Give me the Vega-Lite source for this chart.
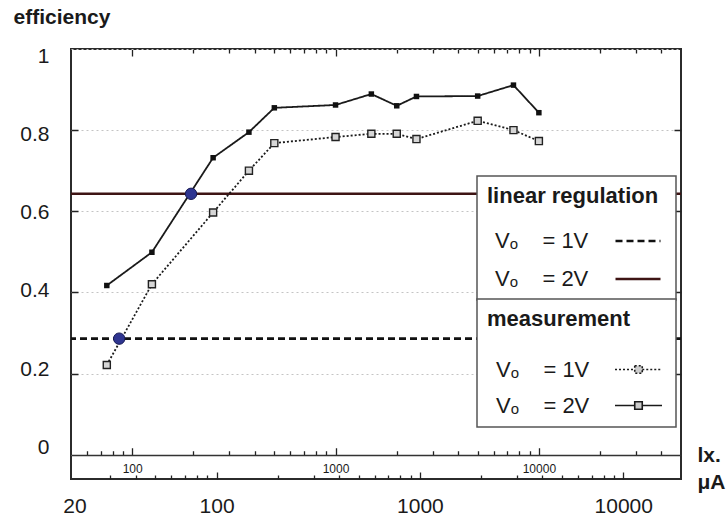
{
  "$schema": "https://vega.github.io/schema/vega-lite/v6.json",
  "width": 610,
  "height": 430,
  "autosize": {"type": "none"},
  "padding": {"left": 71, "top": 49, "right": 47, "bottom": 40},
  "background": "white",
  "config": {
    "font": "Liberation Sans",
    "view": {"stroke": "#2b2b2b", "strokeWidth": 2},
    "axis": {"labelFont": "Liberation Sans", "titleFont": "Liberation Sans", "labelColor": "#1a1a1a", "titleColor": "#1a1a1a", "tickSize": 0, "domainColor": "#333333", "labelFlush": false, "labelOverlap": false, "labelBound": false, "grid": false},
    "legend": {"labelFont": "Liberation Sans", "titleFont": "Liberation Sans", "labelColor": "#1a1a1a", "titleColor": "#1a1a1a", "labelFontSize": 22, "titleFontSize": 22, "titleFontWeight": "bold", "labelLimit": 400, "titleLimit": 400, "orient": "none", "padding": 10, "fillColor": "white", "strokeColor": "#555555", "strokeWidth": 1.5, "cornerRadius": 0, "symbolOffset": 127, "labelOffset": -167}
  },
  "datasets": {
    "measurement": [
      {"meas": "1V", "lx": 75, "eff": 0.221},
      {"meas": "1V", "lx": 125, "eff": 0.420},
      {"meas": "1V", "lx": 250, "eff": 0.597},
      {"meas": "1V", "lx": 375, "eff": 0.700},
      {"meas": "1V", "lx": 500, "eff": 0.768},
      {"meas": "1V", "lx": 1000, "eff": 0.783},
      {"meas": "1V", "lx": 1500, "eff": 0.791},
      {"meas": "1V", "lx": 2000, "eff": 0.791},
      {"meas": "1V", "lx": 2500, "eff": 0.778},
      {"meas": "1V", "lx": 5000, "eff": 0.823},
      {"meas": "1V", "lx": 7500, "eff": 0.800},
      {"meas": "1V", "lx": 10000, "eff": 0.773},
      {"meas": "2V", "lx": 75, "eff": 0.417},
      {"meas": "2V", "lx": 125, "eff": 0.499},
      {"meas": "2V", "lx": 250, "eff": 0.732},
      {"meas": "2V", "lx": 375, "eff": 0.795},
      {"meas": "2V", "lx": 500, "eff": 0.855},
      {"meas": "2V", "lx": 1000, "eff": 0.862},
      {"meas": "2V", "lx": 1500, "eff": 0.889},
      {"meas": "2V", "lx": 2000, "eff": 0.860},
      {"meas": "2V", "lx": 2500, "eff": 0.883},
      {"meas": "2V", "lx": 5000, "eff": 0.884},
      {"meas": "2V", "lx": 7500, "eff": 0.911},
      {"meas": "2V", "lx": 10000, "eff": 0.843}
    ],
    "regulation": [
      {"reg": "1V", "eff": 0.286},
      {"reg": "2V", "eff": 0.643}
    ],
    "crossing": [
      {"reg": "1V", "lx": 86.3, "eff": 0.286},
      {"reg": "2V", "lx": 194.7, "eff": 0.643}
    ]
  },
  "resolve": {"scale": {"x": "independent", "y": "independent"}, "axis": {"x": "independent", "y": "independent"}},
  "layer": [
    {
      "resolve": {"scale": {"strokeDash": "independent"}, "legend": {"strokeDash": "independent"}},
      "layer": [
        {
          "data": {"name": "regulation"},
          "mark": {"type": "rule", "strokeWidth": 2.6},
          "encoding": {
            "y": {
              "field": "eff", "type": "quantitative",
              "scale": {"domain": [-0.06, 1], "nice": false, "zero": false},
              "axis": {
                "orient": "left",
                "values": [0, 0.2, 0.4, 0.6, 0.8, 1],
                "format": "~g",
                "tickSize": 0,
                "labelFontSize": 21,
                "labelPadding": 22,
                "labelOffset": {"expr": "(datum.value - 0.5) * 14"},
                "domain": false,
                "grid": true, "gridDash": [2, 3], "gridColor": "#c4c4c4", "gridWidth": 1,
                "title": "efficiency", "titleAngle": 0, "titleAlign": "left", "titleBaseline": "middle",
                "titleX": -58, "titleY": -32, "titleFontSize": 21, "titleFontWeight": "bold"
              }
            },
            "strokeDash": {
              "field": "reg", "type": "nominal",
              "scale": {"domain": ["1V", "2V"], "range": [[7, 4], [1, 0]]},
              "legend": {
                "title": "linear regulation", "legendX": 406, "legendY": 127,
                "symbolType": "stroke", "symbolSize": 2025, "symbolStrokeWidth": 2.6,
                "titlePadding": 9, "rowPadding": 3,
                "labelExpr": "'Vₒ\u00a0\u00a0\u00a0 = ' + datum.label",
                "encode": {"symbols": {"update": {
                  "stroke": {"signal": "datum.value === '2V' ? '#3e1414' : '#111111'"},
                  "fill": {"signal": "datum.value === '1V' ? '#d0d0d0' : '#111111'"}
                }}}
              }
            },
            "color": {
              "field": "reg", "type": "nominal",
              "scale": {"domain": ["1V", "2V"], "range": ["#111111", "#3e1414"]},
              "legend": null
            }
          }
        },
        {
          "data": {"name": "measurement"},
          "mark": {"type": "line", "strokeWidth": 1.8, "color": "#1a1a1a"},
          "encoding": {
            "x": {
              "field": "lx", "type": "quantitative",
              "scale": {"type": "log", "domain": [50, 50000], "nice": false},
              "axis": {
                "orient": "bottom", "offset": -24,
                "values": [100, 1000, 10000],
                "format": "d",
                "tickSize": 0,
                "labelFontSize": 12, "labelPadding": 13.7, "labelBaseline": "middle",
                "domain": true, "domainColor": "#333333", "domainWidth": 1.5,
                "title": "lx.", "titleX": 626, "titleY": 0, "titleAlign": "left", "titleBaseline": "middle",
                "titleFontSize": 21, "titleFontWeight": "bold", "titleAngle": 0
              }
            },
            "y": {"field": "eff", "type": "quantitative", "scale": {"domain": [-0.06, 1], "nice": false, "zero": false}},
            "strokeDash": {
              "field": "meas", "type": "nominal",
              "scale": {"domain": ["1V", "2V"], "range": [[2, 2], [1, 0]]},
              "legend": {
                "title": "measurement", "legendX": 406, "legendY": 250,
                "symbolType": "M-1,0H-0.16M0.16,0H1M-0.16,-0.16H0.16V0.16H-0.16Z",
                "symbolSize": 2209, "symbolStrokeWidth": 1.6, "symbolFillColor": "#cccccc",
                "titlePadding": 14, "rowPadding": -6,
                "labelExpr": "'Vₒ\u00a0\u00a0\u00a0 = ' + datum.label",
                "encode": {"symbols": {"update": {
                  "fill": {"signal": "datum.value === '1V' ? '#d0d0d0' : '#111111'"},
                  "stroke": {"signal": "'#222222'"}
                }}}
              }
            }
          }
        },
        {
          "data": {"name": "measurement"},
          "transform": [{"filter": "datum.meas === '1V'"}],
          "mark": {"type": "square", "size": 50, "filled": true, "fill": "#d6d6d6", "stroke": "#222222", "strokeWidth": 1.4, "opacity": 1},
          "encoding": {
            "x": {"field": "lx", "type": "quantitative", "scale": {"type": "log", "domain": [50, 50000], "nice": false}},
            "y": {"field": "eff", "type": "quantitative", "scale": {"domain": [-0.06, 1], "nice": false, "zero": false}}
          }
        }
      ]
    },
    {
      "data": {"name": "crossing"},
      "mark": {"type": "circle", "size": 130, "color": "#2f3590", "opacity": 1, "stroke": "#1a1d55", "strokeWidth": 1},
      "encoding": {
        "x": {
          "field": "lx", "type": "quantitative",
          "scale": {"type": "log", "domain": [50, 50000], "nice": false},
          "axis": {
            "orient": "top",
            "values": [60, 70, 80, 90, 100, 200, 300, 400, 500, 600, 700, 800, 900, 1000, 2000, 3000, 4000, 5000, 6000, 7000, 8000, 9000, 10000, 20000, 30000, 40000],
            "grid": true,
            "gridDash": {"condition": [
              {"test": "datum.value < 100", "value": [0, 24.3, 4, 1000]},
              {"test": "datum.value == 100 || datum.value == 1000 || datum.value == 10000", "value": [0, 24.3, 7, 391.7, 7, 100]}
            ], "value": [0, 24.3, 4, 397.7, 4, 100]},
            "gridColor": "#222222", "gridWidth": 1.3,
            "ticks": false, "labels": false, "domain": false, "title": null
          }
        },
        "y": {
          "field": "eff", "type": "quantitative",
          "scale": {"domain": [-0.06, 1], "nice": false, "zero": false},
          "axis": {
            "orient": "left", "values": [0.2, 0.4, 0.6, 0.8],
            "grid": true, "gridDash": [7, 596, 7, 20], "gridColor": "#222222", "gridWidth": 1.3,
            "ticks": false, "labels": false, "domain": false, "title": null
          }
        }
      }
    },
    {
      "data": {"name": "measurement"},
      "transform": [{"filter": "datum.meas === '2V'"}],
      "mark": {"type": "square", "size": 30, "color": "#111111", "opacity": 1},
      "encoding": {
        "x": {
          "field": "lx", "type": "quantitative",
          "scale": {"type": "log", "domain": [50, 50000], "nice": false},
          "axis": {
            "orient": "top",
            "values": [52, 78, 104, 130, 156, 182, 208, 234, 260, 520, 780, 1040, 1300, 1560, 1820, 2080, 2340, 2600, 5200, 7800, 10400, 13000, 15600, 18200, 20800, 23400, 26000],
            "grid": true,
            "gridDash": {"condition": {"test": "datum.value == 260 || datum.value == 2600 || datum.value == 26000", "value": [7, 1000]}, "value": [4, 1000]},
            "gridOpacity": {"condition": {"test": "datum.value == 52", "value": 0}, "value": 1},
            "gridColor": "#222222", "gridWidth": 1.3,
            "tickSize": 0,
            "labelExpr": "datum.value == 52 || datum.value == 260 || datum.value == 2600 || datum.value == 26000 ? format(datum.value / 2.6, 'd') : ''",
            "labelFontSize": 21, "labelPadding": -457, "labelBaseline": "middle",
            "domain": false,
            "title": "μA", "titleX": 626, "titleY": 433, "titleAlign": "left", "titleBaseline": "middle",
            "titleFontSize": 21, "titleFontWeight": "bold", "titleAngle": 0
          }
        },
        "y": {
          "field": "eff", "type": "quantitative",
          "scale": {"domain": [-0.06, 1], "nice": false, "zero": false},
          "axis": null
        }
      }
    }
  ]
}
